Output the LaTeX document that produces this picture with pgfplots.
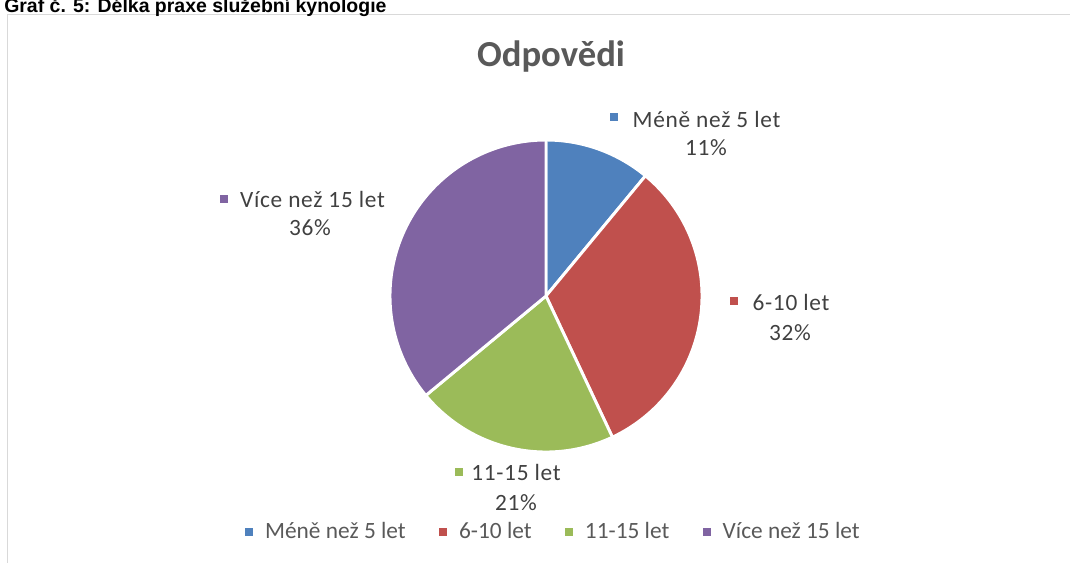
\documentclass[border=0pt]{standalone}
\usepackage{pgfplots}
\pgfplotsset{compat=1.18}
\usepgfplotslibrary{polar}
\usepackage{pgfplotstable}
\usepackage{fontspec}
\setmainfont{Carlito}
\newfontfamily\capfont{Liberation Sans}
\definecolor{cA}{HTML}{4F81BD}
\definecolor{cB}{HTML}{C0504D}
\definecolor{cC}{HTML}{9BBB59}
\definecolor{cD}{HTML}{8064A2}
\definecolor{tgray}{HTML}{595959}
\definecolor{lgray}{HTML}{404040}
\definecolor{bgray}{HTML}{D9D9D9}

\pgfplotstableread{
id value
A 11
B 32
C 21
D 36
}\piedata

\pgfplotstablegetelem{0}{value}\of\piedata \let\vA\pgfplotsretval
\pgfplotstablegetelem{1}{value}\of\piedata \let\vB\pgfplotsretval
\pgfplotstablegetelem{2}{value}\of\piedata \let\vC\pgfplotsretval
\pgfplotstablegetelem{3}{value}\of\piedata \let\vD\pgfplotsretval
\pgfmathsetmacro\aZ{90}
\pgfmathsetmacro\aA{90-3.6*\vA}
\pgfmathsetmacro\aB{\aA-3.6*\vB}
\pgfmathsetmacro\aC{\aB-3.6*\vC}
\pgfmathsetmacro\aD{\aC-3.6*\vD}

\newcommand\lblfont{\fontsize{17.5}{21}\selectfont\addfontfeature{LetterSpace=3}}

\begin{document}
\begin{tikzpicture}
\path[use as bounding box, clip] (0,0) rectangle (802.5pt,-421.5pt);
\begin{scope}[x=0.75pt,y=-0.75pt]
  \draw[bgray, line width=0.75pt] (7.5,14.5) rectangle (1100,600);
  \node[anchor=base west, inner sep=0pt] at (4,12.5)
    {\capfont\bfseries\fontsize{14.6}{17}\selectfont Graf č. 5: Délka praxe služební kynologie};
  \node[anchor=base, inner sep=0pt, text=tgray] at (551,66)
    {\bfseries\fontsize{27.5}{32}\selectfont Odpovědi};
  % data labels
  \fill[cA] (610,113) rectangle (618,121);
  \node[anchor=base, inner sep=0pt, text=lgray] at (706.5,127) {\lblfont Méně než 5 let};
  \node[anchor=base, inner sep=0pt, text=lgray] at (706,155) {\lblfont 11\%};
  \fill[cB] (730,297) rectangle (738,305);
  \node[anchor=base, inner sep=0pt, text=lgray] at (791,310) {\lblfont 6-10 let};
  \node[anchor=base, inner sep=0pt, text=lgray] at (790,340) {\lblfont 32\%};
  \fill[cC] (455,468) rectangle (463,476);
  \node[anchor=base, inner sep=0pt, text=lgray] at (516,480) {\lblfont 11-15 let};
  \node[anchor=base, inner sep=0pt, text=lgray] at (516,510) {\lblfont 21\%};
  \fill[cD] (220,195) rectangle (228,203);
  \node[anchor=base, inner sep=0pt, text=lgray] at (312.5,207) {\lblfont Více než 15 let};
  \node[anchor=base, inner sep=0pt, text=lgray] at (310,235) {\lblfont 36\%};
\end{scope}
\begin{polaraxis}[
  at={(409.5pt,-222pt)}, anchor=center,
  scale only axis, width=234pt, height=234pt,
  hide axis, ymin=0, ymax=1, clip=false,
  legend columns=4,
  legend image code/.code={\fill[#1, draw=none] (0pt,-3pt) rectangle (6pt,3pt);},
  legend style={at={(0.525,-0.256)}, anchor=center, draw=none, fill=none,
    font=\fontsize{17.5}{21}\selectfont, text=tgray, inner sep=0pt,
    /tikz/every odd column/.append style={column sep=7pt},
    /tikz/every even column/.append style={column sep=23pt}},
]
\addplot[fill=cA, draw=white, line width=2.2pt, line join=round, domain=\aA:\aZ, samples=60] {1} -- (axis cs:0,0) -- cycle;
\addlegendentry{Méně než 5 let}
\addplot[fill=cB, draw=white, line width=2.2pt, line join=round, domain=\aB:\aA, samples=120] {1} -- (axis cs:0,0) -- cycle;
\addlegendentry{6-10 let}
\addplot[fill=cC, draw=white, line width=2.2pt, line join=round, domain=\aC:\aB, samples=90] {1} -- (axis cs:0,0) -- cycle;
\addlegendentry{11-15 let}
\addplot[fill=cD, draw=white, line width=2.2pt, line join=round, domain=\aD:\aC, samples=120] {1} -- (axis cs:0,0) -- cycle;
\addlegendentry{Více než 15 let}
\end{polaraxis}
\end{tikzpicture}
\end{document}
